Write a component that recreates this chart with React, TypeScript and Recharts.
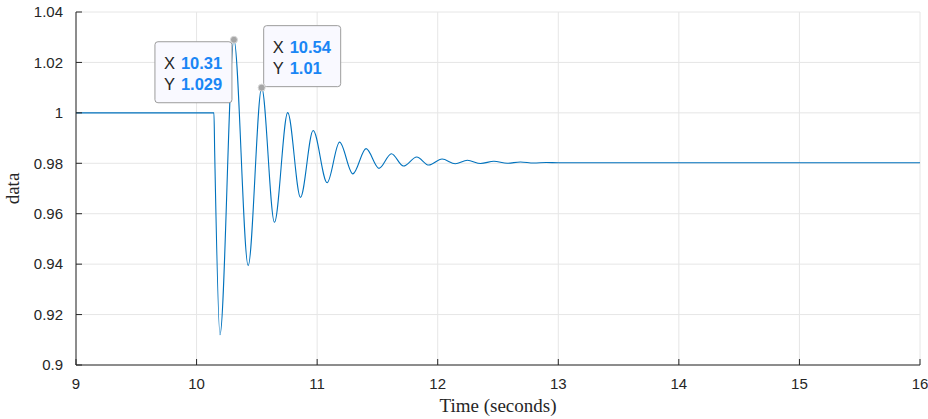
import { LineChart, Line, XAxis, YAxis, CartesianGrid, ReferenceDot, Label } from 'recharts'

// step at ~10.14 s, then a decaying ring settling near 0.98
const times = [
  9, 10.144, 10.15, 10.194, 10.31, 10.428, 10.54, 10.646, 10.756, 10.862, 10.967,
  11.083, 11.186, 11.296, 11.406, 11.513, 11.616, 11.716, 11.826, 11.926, 12.036,
  12.146, 12.246, 12.356, 12.466, 12.576, 12.686, 12.796, 12.9, 13.0, 16,
]
const values = [
  1, 1, 0.985, 0.912, 1.029, 0.9394, 1.01, 0.9566, 1.0001, 0.9665, 0.993,
  0.9723, 0.9884, 0.9758, 0.9858, 0.978, 0.9838, 0.9789, 0.9825, 0.9793, 0.9817,
  0.9798, 0.9812, 0.9799, 0.9808, 0.98, 0.9805, 0.9801, 0.9803, 0.9802, 0.9802,
]

const xTicks = [9, 10, 11, 12, 13, 14, 15, 16]
const yTicks = [0.9, 0.92, 0.94, 0.96, 0.98, 1, 1.02, 1.04]

const tipX = [10.31, 10.54]
const tipY = [1.029, 1.01]

const data = times.map((t, i) => ({ t, v: values[i] }))

const AXIS = '#262626'
const SANS = 'Liberation Sans, Arial, sans-serif'
const SERIF = 'Liberation Serif, Times New Roman, serif'
const tickFont = { fontSize: 15, fill: AXIS, fontFamily: SANS }

function tipShape(i: number) {
  return (props: any) => {
    const { cx, cy } = props
    const left = i === 0
    const bx = left ? cx - 79 : cx + 2
    const by = left ? cy + 2 : cy - 62
    const font = { fontSize: 16.5, fontFamily: SANS }
    return (
      <g>
        <rect x={bx} y={by} width={77} height={61} rx={3} fill="#f9f9ff" stroke="#9c9c9c" strokeWidth={1} />
        <text x={bx + 9} y={by + 27} {...font} fill={AXIS}>X</text>
        <text x={bx + 26} y={by + 27} {...font} fill="#1a86f5" fontWeight="bold">{String(tipX[i])}</text>
        <text x={bx + 9} y={by + 48} {...font} fill={AXIS}>Y</text>
        <text x={bx + 26} y={by + 48} {...font} fill="#1a86f5" fontWeight="bold">{String(tipY[i])}</text>
        <circle cx={cx} cy={cy} r={3.5} fill="#a6a6a6" stroke="#d8d8d8" strokeWidth={1} />
      </g>
    )
  }
}

export default function App() {
  return (
    <div style={{ position: 'absolute', left: 0, top: 0, width: 928, height: 419, background: '#fff' }}>
      <LineChart width={928} height={419} data={data} margin={{ top: 12, right: 8, bottom: 0, left: 0 }}>
        <CartesianGrid stroke="#e6e6e6" />
        <XAxis
          dataKey="t"
          type="number"
          domain={[9, 16]}
          ticks={xTicks}
          height={54}
          tickSize={-6}
          tickMargin={19}
          tick={tickFont}
          stroke={AXIS}
        >
          <Label
            content={({ viewBox }: any) => (
              <text
                x={viewBox.x + viewBox.width / 2}
                y={viewBox.y + 47}
                textAnchor="middle"
                fontSize={19}
                fontFamily={SERIF}
                fill={AXIS}
              >
                Time (seconds)
              </text>
            )}
          />
        </XAxis>
        <XAxis
          xAxisId="top"
          orientation="top"
          type="number"
          dataKey="t"
          domain={[9, 16]}
          ticks={xTicks}
          height={0}
          tickSize={-6}
          tick={false}
          stroke={AXIS}
        />
        <YAxis
          type="number"
          domain={[0.9, 1.04]}
          ticks={yTicks}
          width={76}
          tickSize={-6}
          tickMargin={19}
          tick={tickFont}
          tickFormatter={(v: number) => String(+v.toFixed(2))}
          stroke={AXIS}
        >
          <Label
            content={({ viewBox }: any) => (
              <text
                x={19}
                y={viewBox.y + viewBox.height / 2}
                textAnchor="middle"
                fontSize={19}
                fontFamily={SERIF}
                fill={AXIS}
                transform={`rotate(-90 19 ${viewBox.y + viewBox.height / 2})`}
              >
                data
              </text>
            )}
          />
        </YAxis>
        <YAxis
          yAxisId="right"
          orientation="right"
          type="number"
          domain={[0.9, 1.04]}
          ticks={yTicks}
          width={0}
          tickSize={-6}
          tick={false}
          stroke={AXIS}
        />
        <Line
          type="monotone"
          dataKey="v"
          stroke="#0072bd"
          strokeWidth={1.1}
          dot={false}
          isAnimationActive={false}
        />
        {tipX.map((x, i) => (
          <ReferenceDot key={i} x={x} y={tipY[i]} r={3.5} shape={tipShape(i)} />
        ))}
      </LineChart>
    </div>
  )
}
